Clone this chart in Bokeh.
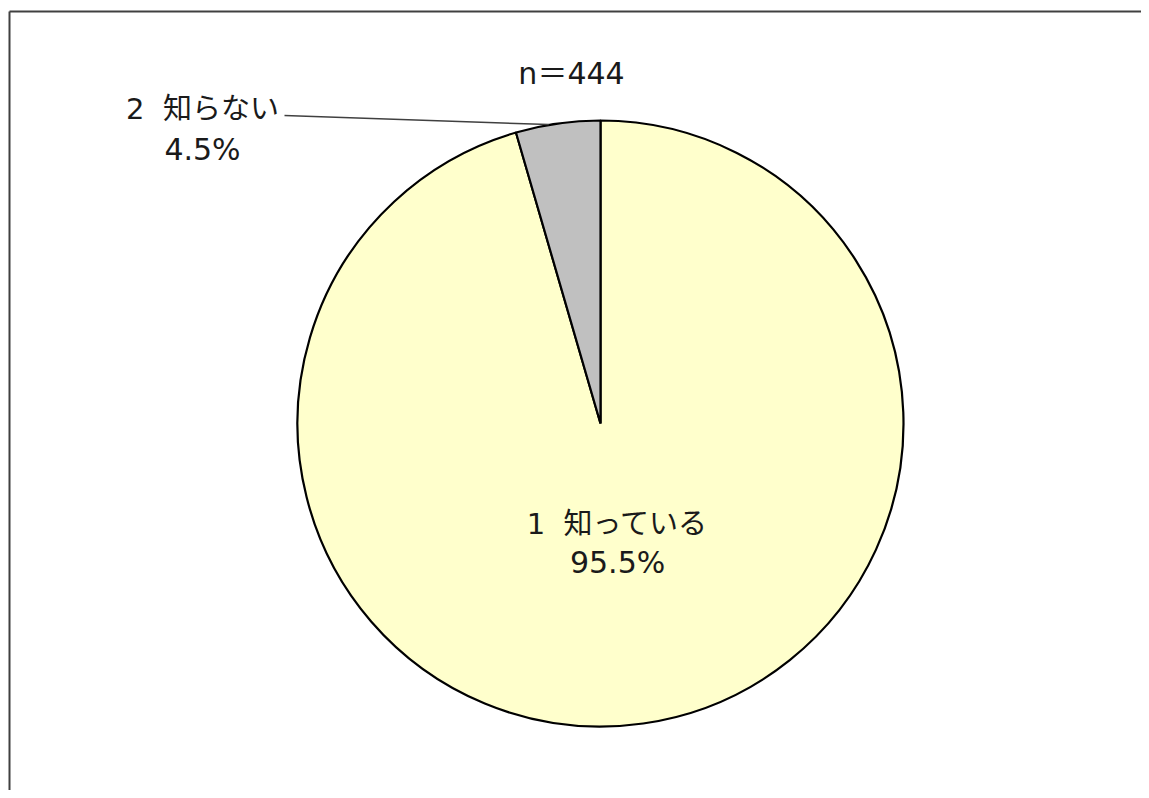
import math
from bokeh.plotting import figure
from bokeh.models import Range1d, ColumnDataSource
from bokeh.core.properties import value
from bokeh.embed import file_html
from bokeh.resources import INLINE

# ---- data ----
categories = ["1\u00a0\u00a0知っている", "2\u00a0\u00a0知らない"]
percents = [95.5, 4.5]
colors = ["#FFFFCC", "#C0C0C0"]
n_label = "n＝444"

W, H = 1141, 790
OFF = 0  # page offset of the figure
FONT = "DejaVu Sans, Noto Sans CJK JP"

p = figure(width=W, height=H, output_backend="svg", toolbar_location=None,
           x_range=Range1d(OFF, OFF + W), y_range=Range1d(0, H),
           min_border=0, outline_line_color=None)
p.xaxis.visible = False
p.yaxis.visible = False
p.grid.visible = False


def py(page_y):
    return H + OFF - page_y


# frame (left and top edges visible; right/bottom run off the page)
p.segment(x0=[9, 9], y0=[py(11), py(11)], x1=[9, 1200], y1=[py(900), py(11)],
          line_color="#404040", line_width=2)

cx, cy, r = 600, py(423), 303
total = sum(percents)
starts, ends, mids = [], [], []
a = math.pi / 2
for v in percents:
    e = a - v / total * 2 * math.pi
    starts.append(a)
    ends.append(e)
    mids.append((a + e) / 2)
    a = e

src = ColumnDataSource(dict(x=[cx] * len(percents), y=[cy] * len(percents),
                            start=starts, end=ends, color=colors))
p.wedge(x="x", y="y", radius=r, start_angle="start", end_angle="end",
        direction="clock", fill_color="color", line_color="black",
        line_width=2.2, source=src)

base = dict(text_font=value(FONT), text_color="#1a1a1a",
            text_align="center", text_baseline="middle")
lab = dict(base, text_font_size="29px")
num = dict(base, text_font_size="30px")

# label inside the large slice
m = mids[0]
lx, ly = cx + 0.4 * r * math.cos(m), cy + 0.4 * r * math.sin(m)
p.text(x=[lx], y=[ly + 19], text=[categories[0]], **lab)
p.text(x=[lx], y=[ly - 19], text=[f"{percents[0]}%"], **num)

# label outside the small slice with leader line
m = mids[1]
ex, ey = cx + r * math.cos(m), cy + r * math.sin(m)
p.segment(x0=[284], y0=[py(115)], x1=[ex - 9], y1=[ey - 1],
          line_color="#404040", line_width=1.5)
p.text(x=[202], y=[py(108)], text=[categories[1]], **lab)
p.text(x=[202], y=[py(149)], text=[f"{percents[1]}%"], **num)

# sample size
p.text(x=[571], y=[py(73)], text=[n_label], **num)

open("out.html", "w").write(file_html(p, INLINE))
